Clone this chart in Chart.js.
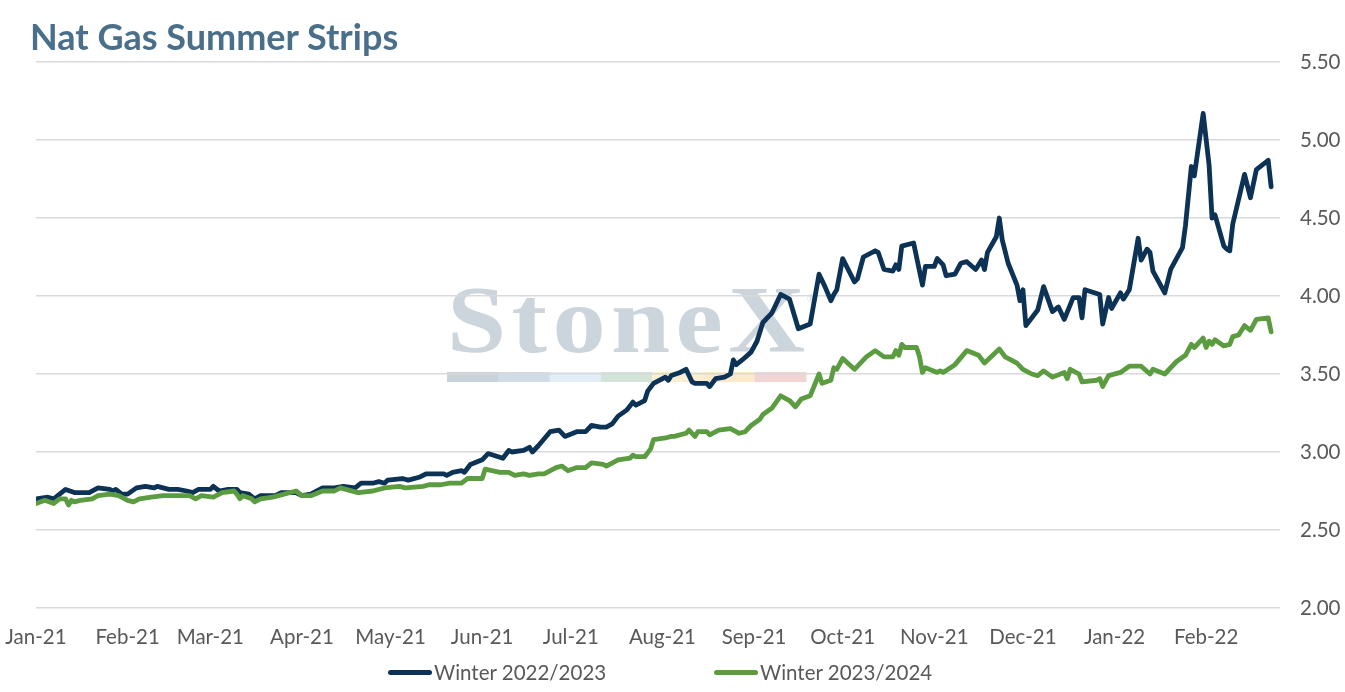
<!DOCTYPE html>
<html>
<head>
<meta charset="utf-8">
<title>Nat Gas Summer Strips</title>
<script src="https://cdn.jsdelivr.net/npm/chart.js@4.4.1/dist/chart.umd.min.js"></script>
<style>
  html, body { margin: 0; padding: 0; background: #fff; }
  #wrap { position: relative; width: 1345px; height: 692px; }
  #title { position: absolute; left: 30px; top: 14px; line-height: 40px;
           font: bold 36px Lato, sans-serif; color: #4a6f8b; white-space: nowrap; }
  .leg { position: absolute; top: 660px; height: 24px; display: flex; align-items: center;
         font: 20.5px Lato, sans-serif; color: #595959; white-space: nowrap; }
  .leg i { display: inline-block; width: 44px; height: 5px; border-radius: 3px; margin-right: 2px; }
</style>
</head>
<body>
<div id="wrap">
  <canvas id="chart"></canvas>
  <div id="title">Nat Gas Summer Strips</div>
  <div class="leg" id="leg0"></div>
  <div class="leg" id="leg1"></div>
</div>
<script>
/* ── Data: day offsets are days since 1 Jan 2021 ── */
var monthStarts = [0, 31, 59, 90, 120, 151, 181, 212, 243, 273, 304, 334, 365, 396];
var monthLabels = ['Jan-21','Feb-21','Mar-21','Apr-21','May-21','Jun-21','Jul-21',
                   'Aug-21','Sep-21','Oct-21','Nov-21','Dec-21','Jan-22','Feb-22'];

var seriesNames = ['Winter 2022/2023', 'Winter 2023/2024'];
var seriesColors = ['#0c3255', '#5b9c41'];

// Winter 2022/2023
var w2223Days = [0,4,6,10,13,18,21,25,26,27,29,31,34,37,40,41,45,48,51,53,55,59,60,62,65,68,69,72,74,76,
  81,83,88,90,93,97,101,104,108,110,114,116,118,119,124,126,130,132,138,139,141,144,145,147,151,153,158,160,161,165,
  167,168,170,174,177,179,183,186,188,191,193,195,197,200,202,203,206,207,209,213,214,215,218,220,222,223,227,228,230,233,
  235,236,237,239,242,244,246,249,252,255,258,262,265,267,269,270,271,273,277,278,280,284,285,287,290,291,292,293,297,300,
  301,304,305,307,308,311,313,315,318,320,321,322,325,326,327,329,332,333,334,335,339,341,344,346,348,351,353,354,355,360,
  361,363,364,367,368,370,373,374,376,377,378,382,384,388,389,391,392,395,397,398,399,402,403,404,405,409,411,413,417,418];
var w2223Values = [2.70,2.71,2.70,2.76,2.74,2.74,2.77,2.76,2.75,2.76,2.73,2.73,2.77,2.78,2.77,2.78,2.76,2.76,2.75,2.74,2.76,2.76,2.78,2.75,2.76,2.76,2.74,2.73,2.70,2.72,
  2.72,2.74,2.74,2.72,2.73,2.77,2.77,2.78,2.77,2.80,2.80,2.81,2.80,2.82,2.83,2.82,2.84,2.86,2.86,2.85,2.87,2.88,2.87,2.92,2.95,2.99,2.96,3.01,3.00,3.01,
  3.03,3.00,3.04,3.13,3.14,3.10,3.13,3.13,3.17,3.16,3.16,3.18,3.23,3.27,3.32,3.30,3.33,3.39,3.44,3.48,3.46,3.49,3.51,3.53,3.45,3.44,3.44,3.42,3.47,3.48,
  3.50,3.59,3.56,3.59,3.64,3.71,3.83,3.89,4.01,3.98,3.79,3.82,4.14,4.06,3.97,4.01,4.04,4.24,4.09,4.11,4.25,4.29,4.28,4.17,4.16,4.20,4.17,4.32,4.34,4.07,
  4.19,4.19,4.24,4.20,4.13,4.14,4.21,4.22,4.17,4.23,4.17,4.28,4.38,4.50,4.36,4.21,4.07,3.97,4.04,3.81,3.91,4.06,3.90,3.93,3.85,3.99,3.99,3.86,4.04,4.01,
  3.82,3.99,3.92,4.02,3.98,4.04,4.37,4.23,4.30,4.28,4.16,4.02,4.17,4.31,4.45,4.83,4.77,5.17,4.84,4.50,4.52,4.32,4.30,4.29,4.46,4.78,4.63,4.81,4.87,4.70];

// Winter 2023/2024
var w2324Days = [0,3,6,8,10,11,12,13,15,19,21,25,28,31,33,35,39,43,52,54,56,60,63,67,68,69,70,73,74,76,
  80,82,88,90,93,97,101,103,109,114,118,123,125,131,133,137,140,144,146,151,152,157,160,162,165,167,170,172,176,178,
  180,183,186,188,192,193,197,201,202,203,206,208,209,213,215,216,220,221,223,224,227,228,231,235,238,240,242,245,246,249,
  252,255,257,259,262,265,266,269,270,271,273,277,281,284,287,290,291,292,293,294,298,299,300,301,305,306,307,311,315,319,
  321,326,328,332,334,337,339,341,344,348,349,350,353,354,359,360,361,363,367,370,374,377,378,382,384,386,389,391,392,395,
  396,397,398,399,402,404,405,407,409,411,413,417,418];
var w2324Values = [2.67,2.69,2.67,2.70,2.70,2.66,2.69,2.68,2.69,2.70,2.72,2.73,2.72,2.69,2.68,2.70,2.71,2.72,2.72,2.70,2.72,2.71,2.74,2.75,2.73,2.70,2.72,2.70,2.68,2.70,
  2.71,2.72,2.75,2.72,2.72,2.75,2.75,2.77,2.74,2.75,2.77,2.78,2.77,2.78,2.79,2.79,2.80,2.80,2.83,2.83,2.89,2.87,2.87,2.85,2.86,2.85,2.86,2.86,2.90,2.91,
  2.88,2.90,2.90,2.93,2.92,2.91,2.95,2.96,2.98,2.97,2.97,3.02,3.08,3.09,3.10,3.10,3.12,3.14,3.10,3.13,3.13,3.11,3.14,3.15,3.12,3.13,3.17,3.21,3.24,3.28,
  3.36,3.33,3.29,3.34,3.36,3.50,3.44,3.46,3.54,3.53,3.60,3.53,3.61,3.65,3.61,3.61,3.65,3.62,3.69,3.67,3.67,3.61,3.51,3.54,3.51,3.52,3.51,3.56,3.65,3.62,
  3.57,3.66,3.61,3.57,3.53,3.50,3.49,3.52,3.48,3.51,3.47,3.53,3.50,3.45,3.46,3.47,3.42,3.49,3.51,3.55,3.55,3.50,3.53,3.50,3.54,3.58,3.62,3.69,3.67,3.73,
  3.67,3.71,3.69,3.72,3.68,3.69,3.74,3.75,3.81,3.78,3.85,3.86,3.77];

var TEXT_GREY = '#595959';
var TICK_FONT = {family: 'Lato', size: 20.5};

function toPoints(days, values){
  return days.map(function(d, i){ return {x: d, y: values[i]}; });
}

/* ── StoneX watermark, painted first so grid lines and series sit over it ── */
var watermark = {
  id: 'watermark',
  beforeDraw: function(chart){
    var ctx = chart.ctx;
    var left = 447, right = 805, base = 352, stretch = 1.12;
    ctx.save();
    ctx.fillStyle = '#ccd4dc';
    ctx.font = 'bold 95px "Liberation Serif"';
    ctx.textBaseline = 'alphabetic';
    var word = 'StoneX';
    var widths = word.split('').map(function(ch){ return ctx.measureText(ch).width * stretch; });
    var total = widths.reduce(function(a, b){ return a + b; }, 0);
    var gap = Math.max(0, (right - left - total) / (word.length - 1));
    var x = left;
    word.split('').forEach(function(ch, i){
      ctx.save();
      ctx.translate(x, base);
      ctx.scale(stretch, 1);
      ctx.fillText(ch, 0, 0);
      ctx.restore();
      x += widths[i] + gap;
    });
    ctx.font = '12px "Liberation Serif"';
    ctx.fillText('\u00AE', right + 2, 303);
    var bar = ['#c9d1d9','#cfdbe7','#e2edf6','#d2e4d8','#fbeed2','#fde9cc','#f3d4d5'];
    var segW = (806 - left) / bar.length;
    bar.forEach(function(c, i){
      ctx.fillStyle = c;
      ctx.fillRect(left + i * segW, 372, segW + 0.5, 10);
    });
    ctx.restore();
  }
};

var canvas = document.getElementById('chart');
var chart = new Chart(canvas, {
  type: 'line',
  data: {
    datasets: [
      { label: seriesNames[0], data: toPoints(w2223Days, w2223Values), borderColor: seriesColors[0],
        backgroundColor: seriesColors[0], order: 2 },
      { label: seriesNames[1], data: toPoints(w2324Days, w2324Values), borderColor: seriesColors[1],
        backgroundColor: seriesColors[1], order: 1 }
    ]
  },
  options: {
    responsive: true,
    maintainAspectRatio: false,
    animation: false,
    events: [],
    layout: { padding: { left: 36, right: 0, top: 62, bottom: 44 } },
    elements: {
      line: { borderWidth: 4.8, tension: 0, borderJoinStyle: 'round', borderCapStyle: 'round' },
      point: { radius: 0 }
    },
    plugins: {
      legend: { display: false },
      title: { display: false },
      tooltip: { enabled: false }
    },
    scales: {
      x: {
        type: 'linear', min: 0, max: 421,
        afterBuildTicks: function(axis){
          axis.ticks = monthStarts.map(function(v){ return {value: v}; });
        },
        // keep the plot flush with the first label instead of padding around it
        afterFit: function(scale){ scale.paddingLeft = 0; scale.paddingRight = 0; scale.height = 40; },
        ticks: {
          autoSkip: false, maxRotation: 0, padding: 17, color: TEXT_GREY, font: TICK_FONT,
          callback: function(v, i){ return monthLabels[i]; }
        },
        grid: { display: false, drawTicks: false },
        border: { display: false }
      },
      y: {
        position: 'right', min: 2, max: 5.5,
        afterFit: function(scale){ scale.width = 65; },
        ticks: {
          stepSize: 0.5, padding: 20, color: TEXT_GREY, font: TICK_FONT,
          callback: function(v){ return v.toFixed(2); }
        },
        grid: { color: '#d9d9d9', lineWidth: 1.5, drawTicks: false },
        border: { display: false }
      }
    }
  },
  plugins: [watermark]
});

// HTML legend under the plot
[388, 714].forEach(function(left, i){
  var el = document.getElementById('leg' + i);
  el.style.left = left + 'px';
  el.innerHTML = '<i style="background:' + seriesColors[i] + '"></i>' + seriesNames[i];
});
</script>
</body>
</html>
